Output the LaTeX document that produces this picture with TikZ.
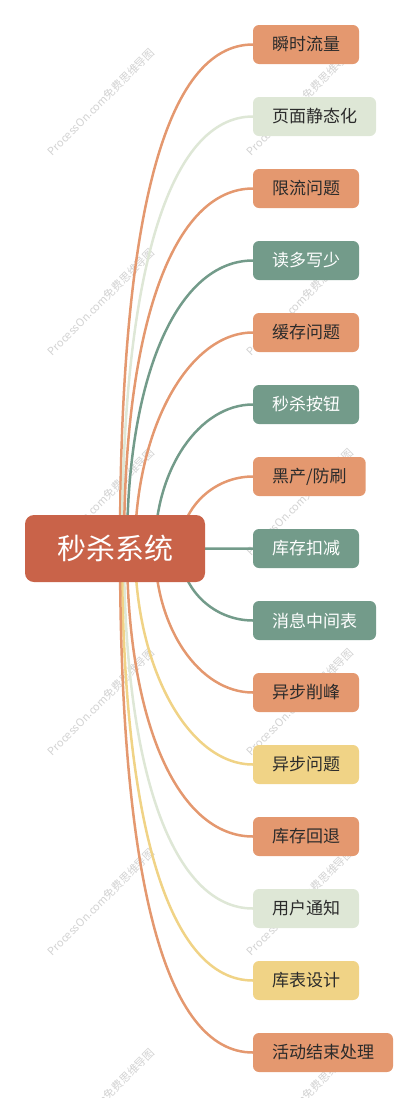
\documentclass[tikz,border=0pt]{standalone}
\usepackage{fontspec}
\usepackage{tikz}
\usetikzlibrary{positioning,calc,backgrounds}
\newfontfamily\cjk{Noto Sans CJK SC}
\definecolor{mmroot}{HTML}{C96349}
\definecolor{mmorange}{HTML}{E4986F}
\definecolor{mmlight}{HTML}{DEE7D6}
\definecolor{mmteal}{HTML}{739B8A}
\definecolor{mmyellow}{HTML}{F0D386}
\definecolor{mmtext}{HTML}{2B2B2B}
\definecolor{mmmark}{HTML}{D2D2D2}

\begin{document}
\begin{tikzpicture}[
    x=1pt, y=1pt,
    topic/.style={rectangle, rounded corners=6pt, inner xsep=19pt, inner ysep=3pt, outer sep=0pt, minimum height=39pt, font=\cjk\fontsize{17}{20}\selectfont, text=mmtext},
    hot/.style={topic, fill=mmorange},
    pale/.style={topic, fill=mmlight},
    cool/.style={topic, fill=mmteal, text=white},
    warm/.style={topic, fill=mmyellow},
    centre/.style={rectangle, rounded corners=9pt, outer sep=0pt, fill=mmroot, text=white, minimum width=180pt, minimum height=67pt, font=\cjk\fontsize{29}{34}\selectfont},
    branch/.style={line width=2.5pt},
    watermark/.style={rotate=45, text=mmmark, inner sep=0pt, font=\cjk\fontsize{11}{13}\selectfont}
]
    \useasboundingbox (0,0) rectangle (420,-1098);

    % Nodes
    \node (root) [centre] at (115,-548.5) {秒杀系统};

    \node (n8) [cool, right=48pt of root] {库存扣减};
    \node (n7) [hot, above right=33pt and 0pt of n8.north west] {黑产/防刷};
    \node (n6) [cool, above right=33pt and 0pt of n7.north west] {秒杀按钮};
    \node (n5) [hot, above right=33pt and 0pt of n6.north west] {缓存问题};
    \node (n4) [cool, above right=33pt and 0pt of n5.north west] {读多写少};
    \node (n3) [hot, above right=33pt and 0pt of n4.north west] {限流问题};
    \node (n2) [pale, above right=33pt and 0pt of n3.north west] {页面静态化};
    \node (n1) [hot, above right=33pt and 0pt of n2.north west] {瞬时流量};

    \node (n9) [cool, below right=33pt and 0pt of n8.south west] {消息中间表};
    \node (n10) [hot, below right=33pt and 0pt of n9.south west] {异步削峰};
    \node (n11) [warm, below right=33pt and 0pt of n10.south west] {异步问题};
    \node (n12) [hot, below right=33pt and 0pt of n11.south west] {库存回退};
    \node (n13) [pale, below right=33pt and 0pt of n12.south west] {用户通知};
    \node (n14) [warm, below right=33pt and 0pt of n13.south west] {库表设计};
    \node (n15) [hot, below right=33pt and 0pt of n14.south west] {活动结束处理};

    \begin{scope}[on background layer]
    % Watermark
    \foreach \row in {0,...,5}{
        \foreach \cl in {0,1}{
            \node (wm\row\cl) [watermark] at (101+199*\cl, -102-200*\row) {ProcessOn.com免费思维导图};
        }
    }

    % Connectors
    \foreach \i/\col/\s/\k in {1/mmorange/5/0.66, 2/mmlight/7/0.64, 3/mmorange/9/0.62, 4/mmteal/12/0.6,
        5/mmorange/20/0.55, 6/mmteal/40/0.55, 7/mmorange/65/0.55, 8/mmteal/65/0.55,
        9/mmteal/65/0.55, 10/mmorange/40/0.55, 11/mmyellow/20/0.55, 12/mmorange/12/0.6,
        13/mmlight/9/0.62, 14/mmyellow/7/0.64, 15/mmorange/5/0.66}{
        \coordinate (s\i) at ([xshift=\s pt]root.center);
        \coordinate (k\i) at (s\i |- n\i.west);
        \draw [branch, \col] (s\i) .. controls ($(s\i)!\k!(k\i)$) and ($(n\i.west)!\k!(k\i)$) .. (n\i.west);
    }
    \end{scope}
\end{tikzpicture}
\end{document}
